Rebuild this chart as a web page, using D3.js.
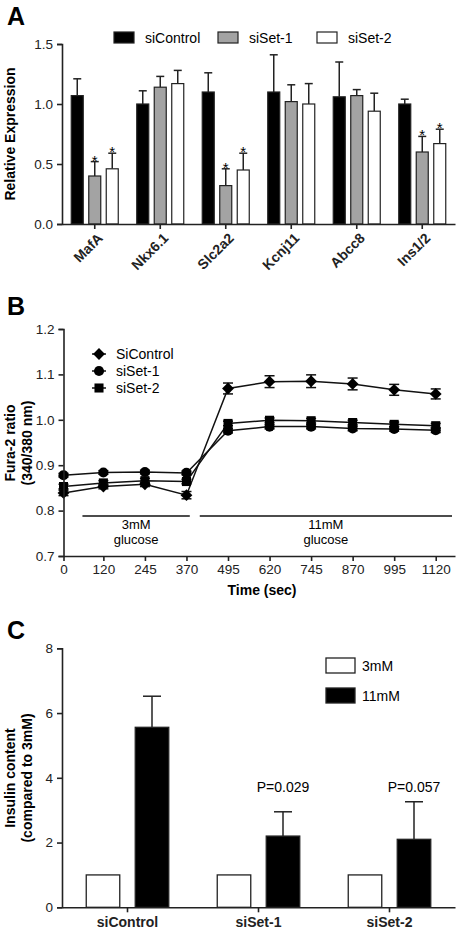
<!DOCTYPE html>
<html><head><meta charset="utf-8">
<script src="https://cdn.jsdelivr.net/npm/d3@7"></script>
<style>
body{margin:0;background:#fff;}
svg{display:block;font-family:"Liberation Sans",Arial,sans-serif;}
</style></head>
<body>
<svg id="c" width="458" height="934"></svg>
<script>
// ---------- Panel A data ----------
const genes = ["MafA","Nkx6.1","Slc2a2","Kcnj11","Abcc8","Ins1/2"];
const seriesA = ["siControl","siSet-1","siSet-2"];
const siControlA = [1.07,1.00,1.10,1.10,1.06,1.00];
const siControlAErr = [0.14,0.11,0.16,0.31,0.29,0.04];
const siSet1A = [0.40,1.14,0.32,1.02,1.07,0.60];
const siSet1AErr = [0.12,0.09,0.14,0.14,0.05,0.13];
const siSet2A = [0.46,1.17,0.45,1.00,0.94,0.67];
const siSet2AErr = [0.13,0.11,0.14,0.17,0.15,0.12];
const siSet1Sig = [1,0,1,0,0,1];
const siSet2Sig = [1,0,1,0,0,1];
const ticksA = [0,0.5,1.0,1.5];

// ---------- Panel B data ----------
const times = [0,120,245,370,495,620,745,870,995,1120];
const seriesB = ["SiControl","siSet-1","siSet-2"];
const siControlB = [0.839,0.853,0.858,0.834,1.069,1.084,1.085,1.079,1.066,1.057];
const siControlBErr = [0.006,0.005,0.005,0.008,0.012,0.013,0.014,0.013,0.012,0.011];
const siSet1B = [0.878,0.884,0.885,0.883,0.976,0.985,0.985,0.981,0.980,0.977];
const siSet1BErr = [0.004,0.004,0.004,0.004,0.005,0.005,0.005,0.005,0.005,0.005];
const siSet2B = [0.853,0.861,0.866,0.864,0.992,0.999,0.998,0.994,0.990,0.987];
const siSet2BErr = [0.005,0.005,0.005,0.005,0.005,0.005,0.005,0.005,0.005,0.005];
const ticksB = [0.7,0.8,0.9,1.0,1.1,1.2];
const glucoseRanges = [[57,380],[410,1169]];
const glucoseLabels = ["3mM","11mM"];

// ---------- Panel C data ----------
const groupsC = ["siControl","siSet-1","siSet-2"];
const seriesC = ["3mM","11mM"];
const mM3 = [1,1,1];
const mM11 = [5.56,2.20,2.10];
const mM11Err = [0.96,0.75,1.16];
const pLabels = ["","P=0.029","P=0.057"];
const ticksC = [0,2,4,6,8];

const svg = d3.select("#c");
const AX = "#222";
function styleAxis(g){
  g.selectAll(".domain").attr("stroke",AX).attr("stroke-width",1.6);
  g.selectAll(".tick line").attr("stroke",AX).attr("stroke-width",1.6);
  g.selectAll(".tick text").attr("fill","#222").attr("font-family","Liberation Sans, Arial, sans-serif");
}
function panelLetter(t,x,y){
  svg.append("text").attr("x",x).attr("y",y).attr("font-size",25).attr("font-weight","bold").text(t);
}

// ================= PANEL A =================
{
  panelLetter("A",7,25);
  const x = d3.scaleBand().domain(genes).range([62,455]);
  const sub = d3.scaleBand().domain(seriesA)
    .range([x.bandwidth()/2-26.25, x.bandwidth()/2+26.25]).paddingInner(0.314).paddingOuter(0.157);
  const y = d3.scaleLinear().domain([0,1.5]).range([224,44]);
  const fills = {"siControl":"#000","siSet-1":"#a3a3a3","siSet-2":"#fff"};
  const vals = {"siControl":siControlA,"siSet-1":siSet1A,"siSet-2":siSet2A};
  const errs = {"siControl":siControlAErr,"siSet-1":siSet1AErr,"siSet-2":siSet2AErr};
  const sigs = {"siControl":[0,0,0,0,0,0],"siSet-1":siSet1Sig,"siSet-2":siSet2Sig};
  const data = [];
  genes.forEach((g,i)=>seriesA.forEach(s=>data.push({g,s,v:vals[s][i],e:errs[s][i],sig:sigs[s][i]})));
  const G = svg.append("g");
  data.forEach(d=>{
    const cx = x(d.g)+sub(d.s)+sub.bandwidth()/2;
    G.append("line").attr("x1",cx).attr("x2",cx).attr("y1",y(d.v)).attr("y2",y(d.v+d.e)).attr("stroke","#222").attr("stroke-width",1.5);
    G.append("line").attr("x1",cx-4).attr("x2",cx+4).attr("y1",y(d.v+d.e)).attr("y2",y(d.v+d.e)).attr("stroke","#222").attr("stroke-width",1.5);
    if(d.sig){
      G.append("text").attr("x",cx).attr("y",y(d.v+d.e)+4).attr("text-anchor","middle").attr("font-size",15).text("*");
    }
  });
  G.selectAll("rect.bar").data(data).join("rect")
    .attr("x",d=>x(d.g)+sub(d.s)).attr("width",sub.bandwidth())
    .attr("y",d=>y(d.v)).attr("height",d=>y(0)-y(d.v))
    .attr("fill",d=>fills[d.s]).attr("stroke","#222").attr("stroke-width",1.2);
  const ya = svg.append("g").attr("transform","translate(62,0)")
    .call(d3.axisLeft(y).tickValues(ticksA).tickFormat(d3.format(".1f")).tickSize(5).tickPadding(4));
  ya.selectAll(".tick text").attr("font-size",13.5);
  styleAxis(ya);
  const xa = svg.append("g").attr("transform","translate(0,224)")
    .call(d3.axisBottom(x).tickSize(5).tickSizeOuter(0));
  styleAxis(xa);
  xa.selectAll(".tick text").attr("font-size",14).attr("font-weight","bold")
    .attr("text-anchor","end").attr("dy",0).attr("y",0)
    .attr("transform","translate(9,15) rotate(-45)");
  svg.append("text").attr("transform","translate(15,134) rotate(-90)")
    .attr("text-anchor","middle").attr("font-size",14).attr("font-weight","bold").text("Relative Expression");
  const legX = [114,218,317];
  seriesA.forEach((s,i)=>{
    svg.append("rect").attr("x",legX[i]).attr("y",32).attr("width",20).attr("height",11)
      .attr("fill",fills[s]).attr("stroke","#222").attr("stroke-width",1.2);
    svg.append("text").attr("x",legX[i]+31).attr("y",42.5).attr("font-size",14).text(s);
  });
}

// ================= PANEL B =================
{
  panelLetter("B",7,315);
  const x = d3.scaleLinear().domain([0,1178]).range([63.5,455]);
  const y = d3.scaleLinear().domain([0.7,1.2]).range([556,329]);
  const shapes = [
    d3.symbol().type(d3.symbolSquare).size(70),
    d3.symbol().type(d3.symbolCircle).size(80),
    d3.symbol().type(d3.symbolSquare).size(82)
  ];
  const rot = [45,0,0];
  const vals = [siControlB,siSet1B,siSet2B];
  const errs = [siControlBErr,siSet1BErr,siSet2BErr];
  const line = d3.line().x((d,i)=>x(times[i])).y(d=>y(d));
  const G = svg.append("g");
  [2,1,0].forEach(k=>{
    G.append("path").datum(vals[k]).attr("d",line).attr("fill","none").attr("stroke","#111").attr("stroke-width",1.5);
  });
  [2,1,0].forEach(k=>{
    vals[k].forEach((v,i)=>{
      const cx = x(times[i]);
      const e = errs[k][i];
      G.append("line").attr("x1",cx).attr("x2",cx).attr("y1",y(v-e)).attr("y2",y(v+e)).attr("stroke","#111").attr("stroke-width",1.5);
      [v-e,v+e].forEach(t=>G.append("line").attr("x1",cx-5).attr("x2",cx+5).attr("y1",y(t)).attr("y2",y(t)).attr("stroke","#111").attr("stroke-width",1.5));
      G.append("path").attr("d",shapes[k]()).attr("transform",`translate(${cx},${y(v)}) rotate(${rot[k]})`).attr("fill","#000");
    });
  });
  const ya = svg.append("g").attr("transform","translate(63.5,0)")
    .call(d3.axisLeft(y).tickValues(ticksB).tickFormat(d3.format(".1f")).tickSize(5).tickPadding(4));
  ya.selectAll(".tick text").attr("font-size",13.5);
  styleAxis(ya);
  const xa = svg.append("g").attr("transform","translate(0,556)")
    .call(d3.axisBottom(x).tickValues(times).tickFormat(d3.format("d")).tickSize(5).tickPadding(3).tickSizeOuter(0));
  xa.selectAll(".tick text").attr("font-size",13.5);
  styleAxis(xa);
  svg.append("text").attr("x",262).attr("y",595).attr("text-anchor","middle").attr("font-size",14).attr("font-weight","bold").text("Time (sec)");
  svg.append("text").attr("transform","translate(15,443) rotate(-90)")
    .attr("text-anchor","middle").attr("font-size",14).attr("font-weight","bold").text("Fura-2 ratio");
  svg.append("text").attr("transform","translate(32,443) rotate(-90)")
    .attr("text-anchor","middle").attr("font-size",14).attr("font-weight","bold").text("(340/380 nm)");
  glucoseRanges.forEach((r,i)=>{
    svg.append("line").attr("x1",x(r[0])).attr("x2",x(r[1])).attr("y1",516).attr("y2",516).attr("stroke","#111").attr("stroke-width",1.3);
    const cx = (x(r[0])+x(r[1]))/2;
    svg.append("text").attr("x",cx).attr("y",528.5).attr("text-anchor","middle").attr("font-size",13).text(glucoseLabels[i]);
    svg.append("text").attr("x",cx).attr("y",544).attr("text-anchor","middle").attr("font-size",13).text("glucose");
  });
  const ly = [354,371,388];
  seriesB.forEach((s,k)=>{
    svg.append("line").attr("x1",92).attr("x2",106).attr("y1",ly[k]).attr("y2",ly[k]).attr("stroke","#111").attr("stroke-width",1.5);
    svg.append("path").attr("d",shapes[k]()).attr("transform",`translate(99,${ly[k]}) rotate(${rot[k]})`).attr("fill","#000");
    svg.append("text").attr("x",116).attr("y",ly[k]+5).attr("font-size",14).text(s);
  });
}

// ================= PANEL C =================
{
  panelLetter("C",7,639);
  const x = d3.scaleBand().domain(groupsC).range([62,455]);
  const sub = d3.scaleBand().domain(seriesC)
    .range([x.bandwidth()/2-49, x.bandwidth()/2+49]).paddingInner(0.316).paddingOuter(0.158);
  const y = d3.scaleLinear().domain([0,8]).range([907.3,648.3]);
  const fills = {"3mM":"#fff","11mM":"#000"};
  const data = [];
  groupsC.forEach((g,i)=>{
    data.push({g,s:"3mM",v:mM3[i],e:0});
    data.push({g,s:"11mM",v:mM11[i],e:mM11Err[i]});
  });
  const G = svg.append("g");
  data.filter(d=>d.e>0).forEach(d=>{
    const cx = x(d.g)+sub(d.s)+sub.bandwidth()/2;
    G.append("line").attr("x1",cx).attr("x2",cx).attr("y1",y(d.v)).attr("y2",y(d.v+d.e)).attr("stroke","#222").attr("stroke-width",1.5);
    G.append("line").attr("x1",cx-9).attr("x2",cx+9).attr("y1",y(d.v+d.e)).attr("y2",y(d.v+d.e)).attr("stroke","#222").attr("stroke-width",1.5);
  });
  G.selectAll("rect").data(data).join("rect")
    .attr("x",d=>x(d.g)+sub(d.s)).attr("width",sub.bandwidth())
    .attr("y",d=>y(d.v)).attr("height",d=>y(0)-y(d.v))
    .attr("fill",d=>fills[d.s]).attr("stroke","#222").attr("stroke-width",1.3);
  groupsC.forEach((g,i)=>{
    if(pLabels[i]) svg.append("text").attr("x",x(g)+sub("11mM")+sub.bandwidth()/2).attr("y",792)
      .attr("text-anchor","middle").attr("font-size",14).text(pLabels[i]);
  });
  const ya = svg.append("g").attr("transform","translate(62,0)")
    .call(d3.axisLeft(y).tickValues(ticksC).tickSize(5).tickPadding(4));
  ya.selectAll(".tick text").attr("font-size",13.5);
  styleAxis(ya);
  const xa = svg.append("g").attr("transform","translate(0,907.3)")
    .call(d3.axisBottom(x).tickSize(5).tickPadding(5).tickSizeOuter(0));
  xa.selectAll(".tick text").attr("font-size",14).attr("font-weight","bold");
  styleAxis(xa);
  svg.append("text").attr("transform","translate(15,778) rotate(-90)")
    .attr("text-anchor","middle").attr("font-size",14).attr("font-weight","bold").text("Insulin content");
  svg.append("text").attr("transform","translate(32,778) rotate(-90)")
    .attr("text-anchor","middle").attr("font-size",14).attr("font-weight","bold").text("(compared to 3mM)");
  const ly = [658,688];
  seriesC.forEach((s,k)=>{
    svg.append("rect").attr("x",326).attr("y",ly[k]).attr("width",29).attr("height",15)
      .attr("fill",fills[s]).attr("stroke","#222").attr("stroke-width",1.3);
    svg.append("text").attr("x",362).attr("y",ly[k]+13).attr("font-size",14).text(s);
  });
}
</script>
</body></html>
